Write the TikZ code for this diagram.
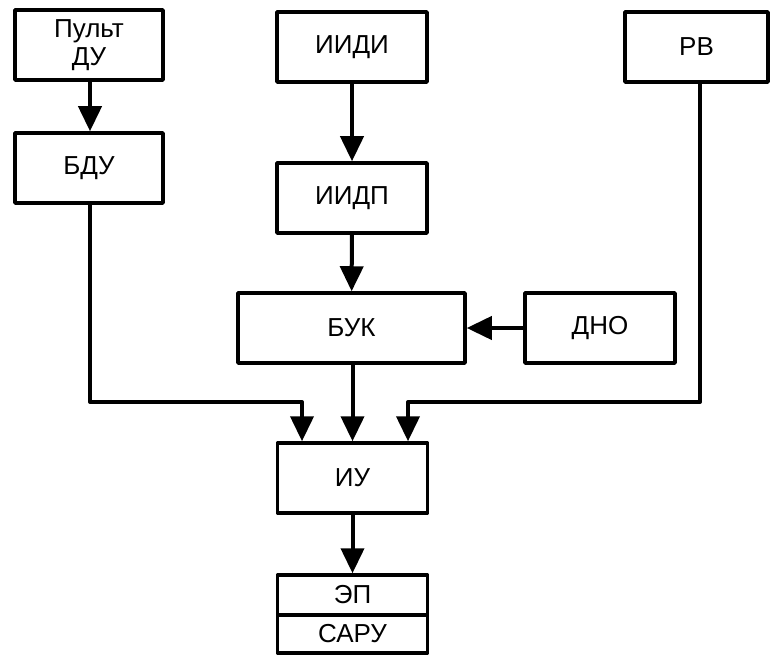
\documentclass[tikz,border=0pt]{standalone}
\usepackage{fontspec}
\setmainfont{Liberation Sans}
\usetikzlibrary{arrows.meta}
\begin{document}
\begin{tikzpicture}[x=1pt,y=-1pt,
  blk/.style={draw,line width=3.5pt,line join=round,minimum width=150pt,minimum height=70pt,inner sep=0pt,align=center,font=\fontsize{26}{28}\selectfont},
  half/.style={blk,minimum height=38pt},
  arr/.style={line width=4pt,-{Triangle[length=25pt,width=23pt]}},
  ln/.style={line width=4pt,line join=round}]
\useasboundingbox (0,0) rectangle (770,655);
\node[blk,minimum width=148pt] (pult) at (89,45) {Пульт\\ДУ};
\node[blk,minimum width=148pt] (bdu) at (89,168) {БДУ};
\node[blk] (iidi) at (352,47) {ИИДИ};
\node[blk] (iidp) at (352,198) {ИИДП};
\node[blk,minimum width=143pt] (rv) at (696.5,47) {РВ};
\node[blk,minimum width=227pt] (buk) at (351.5,328) {БУК};
\node[blk] (dno) at (600,328) {ДНО};
\node[blk] (iu) at (352.5,478) {ИУ};
\node[half,minimum height=40pt] (ep) at (352.5,595) {ЭП};
\node[half] (saru) at (352.5,634) {САРУ};
\coordinate (jl) at (302,402);
\coordinate (jr) at (408,402);
\coordinate (cl) at (90,402);
\coordinate (cr) at (700,402);
\draw[arr] (pult.south -| cl) -- (bdu.north -| cl);
\draw[arr] (iidi) -- (iidp);
\draw[arr] (iidp) -- (buk);
\draw[arr] (dno) -- (buk);
\draw[arr] (buk.south -| iu.north) -- (iu.north);
\draw[arr] (iu) -- (ep);
\draw[ln,-{Triangle[length=25pt,width=23pt]}] (bdu.south -| cl) -- (cl) -- (jl) -- (jl |- iu.north);
\draw[ln,-{Triangle[length=25pt,width=23pt]}] (rv.south -| cr) -- (cr) -- (jr) -- (jr |- iu.north);
\end{tikzpicture}
\end{document}
